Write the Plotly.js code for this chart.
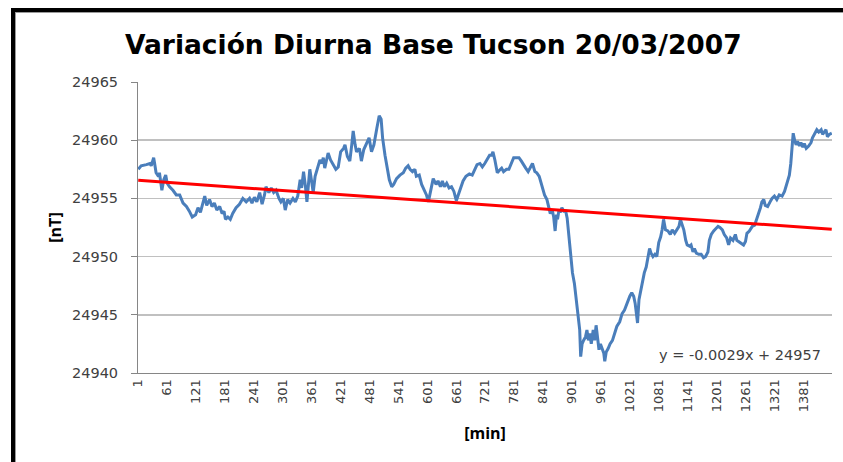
<!DOCTYPE html>
<html>
<head>
<meta charset="utf-8">
<script src="https://cdn.plot.ly/plotly-3.0.1.min.js"></script>
<style>
  html, body { margin:0; padding:0; background:#fff; }
  #wrap { position:relative; width:843px; height:462px; overflow:hidden; }
  #chart { position:absolute; left:0; top:0; width:843px; height:462px; }
  #frame { position:absolute; left:11px; top:8px; width:860px; height:480px;
           border-left:4px solid #000; border-top:4px solid #000; pointer-events:none; }
  #shadow { position:absolute; left:15px; top:12px; width:850px; height:470px;
           border-left:1px solid #9a9a9a; border-top:1px solid #9a9a9a; pointer-events:none; }
</style>
</head>
<body>
<div id="wrap">
  <div id="chart"></div>
  <div id="frame"></div>
  <div id="shadow"></div>
</div>
<script>
// Minute of the day (x) and total field in nT (y)
const minutes = [
  1,7,18,25,28,33,35,38,43,45,50,54,58,61,66,73,80,87,94,101,107,113,120,125,130,135,139,143,149,154,159,164,170,175,179,182,187,192,197,204,211,218,225,232,237,242,247,253,258,263,266,272,277,282,287,293,297,302,306,311,316,322,327,332,337,340,344,348,351,355,357,
  361,364,368,371,375,378,382,385,388,395,400,406,411,416,421,427,430,435,440,444,447,451,454,460,464,469,475,480,485,490,496,501,505,508,513,518,522,527,531,537,544,551,556,561,565,570,575,578,584,589,594,599,603,606,610,613,619,623,628,632,636,641,646,651,656,661,665,668,675,681,688,694,699,704,710,715,720,725,
  730,734,737,741,746,750,755,759,765,770,775,780,786,791,796,800,805,810,815,819,824,828,833,837,841,844,849,853,856,860,863,866,869,871,874,877,880,884,888,891,893,896,899,902,906,910,914,917,919,922,925,929,932,935,938,941,945,948,951,954,957,960,964,967,969,972,976,980,985,989,994,1000,1005,1010,1015,1021,1025,1029,1032,1034,1037,1040,1043,1047,1051,1055,1059,1062,1065,1069,1073,1077,1081,
  1085,1088,1091,1095,1100,1105,1109,1114,1119,1123,1126,1130,1133,1137,1140,1145,1148,1152,1155,1159,1164,1169,1174,1178,1183,1186,1190,1195,1199,1204,1208,1213,1217,1222,1226,1230,1235,1240,1243,1247,1252,1257,1261,1264,1269,1275,1280,1284,1288,1292,1295,1299,1302,1307,1312,1316,1321,1326,1331,1337,1342,1345,1349,1352,1355,1358,1360,1363,1366,1369,1373,1376,1380,1383,1387,1392,1397,1400,1404,1409,1413,1418,1421,1425,1428,1431,1435,1440
];
const nT = [
  24957.5,24957.8,24957.9,24958.0,24957.8,24958.5,24958.0,24957.2,24956.9,24957.2,24955.7,24956.6,24957.0,24956.3,24956.0,24955.7,24955.3,24955.3,24954.6,24954.3,24953.9,24953.4,24953.6,24954.2,24953.8,24954.6,24955.2,24954.4,24954.9,24954.3,24954.6,24954.0,24954.3,24953.7,24953.9,24953.2,24953.4,24953.2,24953.7,24954.2,24954.5,24955.0,24954.7,24955.0,24954.6,24955.1,24954.7,24955.5,24954.5,24955.3,24956.0,24955.5,24955.9,24955.5,24955.7,24955.0,24954.7,24955.0,24954.0,24954.9,24954.6,24955.0,24954.7,24955.2,24956.6,24955.9,24957.3,24956.0,24954.7,24956.6,24957.5,
  24956.4,24955.5,24956.9,24957.3,24957.7,24958.3,24958.0,24958.5,24957.6,24958.9,24958.3,24957.9,24957.5,24957.7,24959.0,24959.3,24959.6,24958.6,24958.2,24959.6,24960.8,24959.6,24959.0,24959.3,24958.2,24959.2,24959.8,24960.2,24959.0,24959.6,24961.0,24962.1,24961.8,24960.2,24958.7,24957.3,24956.6,24956.0,24956.2,24956.7,24957.0,24957.2,24957.6,24957.8,24957.5,24957.3,24957.5,24956.9,24957.0,24956.2,24955.7,24955.3,24954.7,24955.3,24956.2,24956.7,24956.2,24956.5,24956.0,24956.5,24956.0,24956.3,24955.9,24956.0,24955.6,24954.8,24955.3,24955.7,24956.5,24956.9,24957.1,24957.0,24957.5,24957.9,24958.0,24957.7,24958.0,24958.3,
  24958.7,24958.7,24959.0,24958.3,24957.2,24957.4,24957.6,24957.3,24957.5,24957.5,24958.0,24958.5,24958.5,24958.5,24958.2,24957.9,24957.6,24957.3,24957.7,24958.0,24957.3,24957.2,24956.9,24956.3,24955.7,24955.3,24954.9,24954.3,24953.7,24954.0,24953.4,24952.2,24953.6,24953.2,24954.0,24953.8,24954.2,24953.9,24953.9,24953.3,24952.3,24951.2,24949.7,24948.6,24947.7,24946.3,24945.1,24943.7,24941.4,24942.5,24942.8,24943.1,24943.7,24942.8,24943.4,24942.5,24943.7,24942.8,24944.1,24943.1,24942.0,24942.5,24942.1,24941.7,24941.0,24941.8,24942.1,24942.5,24942.8,24943.3,24944.0,24944.4,24945.1,24945.4,24946.0,24946.6,24946.9,24946.6,24946.0,24945.1,24944.3,24946.3,24947.0,24947.7,24948.6,24949.1,24950.0,24950.7,24950.3,24950.0,24950.2,24950.0,24951.2,
  24951.7,24952.3,24953.2,24952.3,24952.2,24951.9,24952.3,24952.0,24952.4,24952.6,24953.2,24952.7,24952.3,24951.4,24951.0,24950.9,24951.0,24950.4,24950.7,24950.3,24950.2,24950.2,24949.9,24950.0,24950.4,24951.4,24951.9,24952.2,24952.4,24952.6,24952.5,24952.3,24951.9,24951.6,24951.0,24951.6,24951.4,24951.9,24951.4,24951.3,24951.2,24951.0,24951.3,24952.0,24952.2,24952.6,24952.7,24953.2,24953.6,24954.2,24954.7,24954.9,24954.4,24954.3,24954.7,24955.0,24955.2,24954.9,24955.3,24955.2,24955.6,24956.0,24956.5,24957.0,24958.0,24959.5,24960.6,24960.0,24959.6,24959.9,24959.5,24959.8,24959.4,24959.7,24959.3,24959.5,24959.8,24960.2,24960.5,24960.9,24960.7,24960.9,24960.5,24960.8,24960.9,24960.3,24960.5,24960.6
];
// Linear trend line end points, as drawn in the reference
const trendMinutes = [1, 1440];
const trendNT = [24956.55, 24952.35];
// Axis ticks
const xTickVals = [1,61,121,181,241,301,361,421,481,541,601,661,721,781,841,901,961,1021,1081,1141,1201,1261,1321,1381];
const xTickText = ['1','61','121','181','241','301','361','421','481','541','601','661','721','781','841','901','961','1021','1081','1141','1201','1261','1321','1381'];
const yTickVals = [24940,24945,24950,24955,24960,24965];
const yTickText = ['24940','24945','24950','24955','24960','24965'];
const titleText = 'Variación Diurna Base Tucson 20/03/2007';
const equationText = 'y = -0.0029x + 24957';

const traces = [
  { x: minutes, y: nT, type: 'scatter', mode: 'lines',
    line: { color: '#4a7ebb', width: 3 }, hoverinfo: 'skip' },
  { x: trendMinutes, y: trendNT, type: 'scatter', mode: 'lines',
    line: { color: '#ff0000', width: 3 }, hoverinfo: 'skip' }
];

const layout = {
  width: 843, height: 462,
  margin: { l: 138, r: 11, t: 82, b: 89 },
  paper_bgcolor: '#ffffff', plot_bgcolor: '#ffffff',
  showlegend: false,
  title: { text: titleText, x: 0.514, xref: 'container', xanchor: 'center',
           y: 0.903, yref: 'container', yanchor: 'middle',
           font: { family: 'DejaVu Sans', size: 26.5, color: '#000000', weight: 700 } },
  xaxis: {
    range: [0.5, 1440.5], tickmode: 'array', tickvals: xTickVals, ticktext: xTickText,
    tickangle: -90, tickfont: { family: 'DejaVu Sans', size: 13, color: '#404040' },
    showgrid: false, zeroline: false, showline: true, linecolor: '#868686', linewidth: 1,
    ticks: '', ticklen: 0,
    title: { text: '<b>[min]</b>', standoff: 16,
             font: { family: 'Open Sans', size: 16, color: '#000000' } }
  },
  yaxis: {
    range: [24940, 24965], tickmode: 'array', tickvals: yTickVals, ticktext: yTickText,
    tickfont: { family: 'DejaVu Sans', size: 14.5, color: '#404040' },
    ticks: 'outside', ticklen: 6, tickcolor: '#868686', ticklabelstandoff: 10,
    showgrid: true, gridcolor: '#c0c0c0', gridwidth: 1.5, zeroline: false,
    showline: true, linecolor: '#868686', linewidth: 1,
    title: { text: '<b>[nT]</b>', standoff: 6,
             font: { family: 'Open Sans', size: 16, color: '#000000' } }
  },
  annotations: [
    { text: equationText, xref: 'paper', yref: 'paper', x: 0.987, y: 0.062,
      xanchor: 'right', yanchor: 'middle', showarrow: false,
      font: { family: 'DejaVu Sans', size: 14.5, color: '#404040' } }
  ]
};

Plotly.newPlot('chart', traces, layout, { displayModeBar: false, staticPlot: true });
</script>
</body>
</html>
